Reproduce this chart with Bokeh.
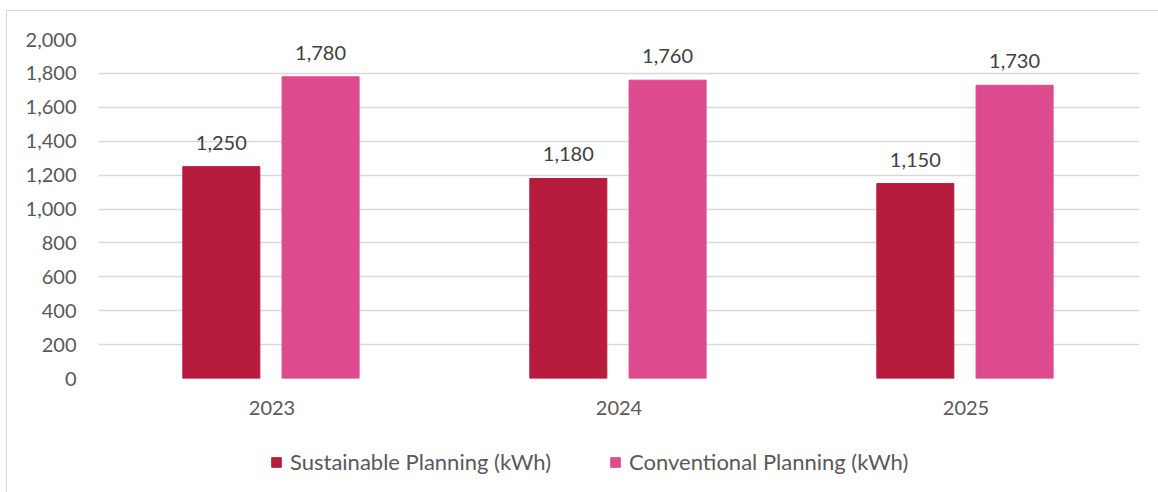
from bokeh.plotting import figure
from bokeh.models import ColumnDataSource, Legend, LegendItem, FactorRange, NumeralTickFormatter, FixedTicker
from bokeh.layouts import column
from bokeh.transform import dodge
from bokeh.embed import file_html
from bokeh.resources import INLINE

years = ["2023", "2024", "2025"]
sustainable = [1250, 1180, 1150]
conventional = [1780, 1760, 1730]
series_names = ["Sustainable Planning (kWh)", "Conventional Planning (kWh)"]
colors = ["#B71C3F", "#DE4A8E"]
y_ticks = [0, 200, 400, 600, 800, 1000, 1200, 1400, 1600, 1800, 2000]

src = ColumnDataSource(dict(
    years=years,
    sus=sustainable,
    con=conventional,
    sus_lbl=[f"{v:,}" for v in sustainable],
    con_lbl=[f"{v:,}" for v in conventional],
))

FONT = "Lato"
TXT = "#595959"

p = figure(x_range=FactorRange(*years), y_range=(0, 2000),
           width=1152, height=420, output_backend="svg", toolbar_location=None,
           min_border_left=91, min_border_right=20, min_border_top=28, min_border_bottom=53)
p.outline_line_color = None
p.x_range.range_padding = 0

r1 = p.vbar(x=dodge("years", -0.146, range=p.x_range), top="sus", width=0.222, source=src,
            fill_color=colors[0], line_color=colors[0])
r2 = p.vbar(x=dodge("years", 0.14, range=p.x_range), top="con", width=0.222, source=src,
            fill_color=colors[1], line_color=colors[1])

for xo, col, lbl in [(-0.146, "sus", "sus_lbl"), (0.14, "con", "con_lbl")]:
    p.text(x=dodge("years", xo, range=p.x_range), y=col, text=lbl, source=src,
           text_align="center", text_baseline="bottom", y_offset=-17,
           text_font_size="20px", text_color="#404040", text_font={"value": FONT})

p.yaxis.ticker = FixedTicker(ticks=y_ticks)
p.yaxis.formatter = NumeralTickFormatter(format="0,0")
for ax in (p.xaxis, p.yaxis):
    ax.axis_line_color = None
    ax.major_tick_line_color = None
    ax.minor_tick_line_color = None
    ax.major_label_text_font = FONT
    ax.major_label_text_font_size = "20px"
    ax.major_label_text_color = TXT
p.yaxis.major_label_standoff = 16
p.xaxis.major_label_standoff = 16

p.xgrid.grid_line_color = None
p.ygrid.grid_line_color = "#d9d9d9"
p.ygrid.grid_line_width = 1.5
p.ygrid.ticker = FixedTicker(ticks=y_ticks)

# legend panel (its frame is aligned with the chart frame by the column layout)
lg = figure(width=1152, height=70, output_backend="svg", toolbar_location=None,
            x_axis_type=None, y_axis_type=None, x_range=(0, 1), y_range=(0, 1),
            min_border=0)
lg.outline_line_color = None
lg.grid.grid_line_color = None
key_src = ColumnDataSource(dict(x=[0.5], top=[1]))
l1 = lg.vbar(x="x", top="top", width=0.1, source=key_src, fill_color=colors[0], line_color=colors[0], visible=False)
l2 = lg.vbar(x="x", top="top", width=0.1, source=key_src, fill_color=colors[1], line_color=colors[1], visible=False)
legend = Legend(items=[LegendItem(label=series_names[0], renderers=[l1]),
                       LegendItem(label=series_names[1], renderers=[l2])],
                orientation="horizontal", location=(172, 26),
                label_text_font=FONT, label_text_font_size="22px", label_text_color=TXT,
                glyph_width=12, glyph_height=12, spacing=58, label_standoff=8,
                border_line_color=None, background_fill_alpha=0, margin=0, padding=0)
lg.add_layout(legend, "center")

layout = column(p, lg, spacing=0, margin=(10, 0, 0, 6))
layout.styles = {"border": "1px solid #d9d9d9"}

open("out.html", "w").write(file_html(layout, INLINE))
